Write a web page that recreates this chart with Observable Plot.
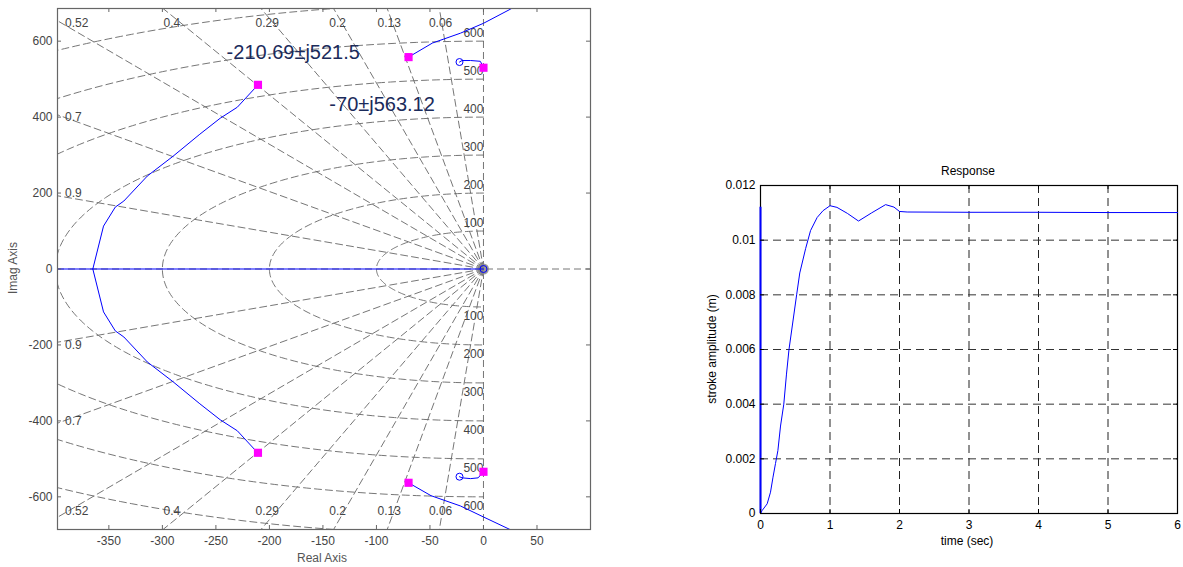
<!DOCTYPE html>
<html><head><meta charset="utf-8">
<script src="https://cdn.jsdelivr.net/npm/d3@7"></script>
<script src="https://cdn.jsdelivr.net/npm/@observablehq/plot@0.6"></script>
<style>
body{margin:0;background:#fff;width:1183px;height:567px;position:relative;overflow:hidden;font-family:"Liberation Sans",Arial,sans-serif}
#left{position:absolute;left:0;top:0}
#right{position:absolute;left:620px;top:0}
.lbl{position:absolute;font-size:12px;white-space:nowrap;transform:translate(-50%,-50%)}
.rot{transform:translate(-50%,-50%) rotate(-90deg)}
</style></head><body>
<div id="left"></div><div id="right"></div>
<div class="lbl rot" style="left:13px;top:268px;color:#555">Imag Axis</div>
<div class="lbl" style="left:322px;top:558px;color:#555">Real Axis</div>
<div class="lbl" style="left:968px;top:171px;color:#000">Response</div>
<div class="lbl" style="left:967px;top:541px;color:#000">time (sec)</div>
<div class="lbl rot" style="left:712px;top:349px;color:#000">stroke amplitude (m)</div>
<script>
// ---------- Root locus data ----------
const realTicks = [-350,-300,-250,-200,-150,-100,-50,0,50];
const imagTicks = [-600,-400,-200,0,200,400,600];
const zetaValues = [0.06,0.13,0.2,0.29,0.4,0.52,0.7,0.9];
const wnRadii = [100,200,300,400,500,600,700,800,900];
const wnLabels = [100,200,300,400,500,600];
const zetaTopLabels = ["0.52","0.4","0.29","0.2","0.13","0.06"];
const zetaTopReal = [-391,-299,-213,-144,-99,-51];
const zetaSideLabels = ["0.7","0.9"];
const zetaSideImag = [400,200];

const locusARe = [-211,-230,-246,-265,-290,-314,-336,-344,-355,-365];
const locusAIm = [484,426,397,355,297,245,179,163,113,0];
const locusALowRe = [-211,-230,-246,-265,-290,-314,-336,-344,-355,-365];
const locusALowIm = [-484,-426,-397,-355,-297,-245,-179,-163,-113,0];
const locusBRe = [-70,-47.7,-21.5,0,25,32];
const locusBIm = [558,595,621,647,684,695];
const locusBLowRe = [-70,-49,-21.5,0,27,32];
const locusBLowIm = [-563,-597,-624,-653,-689,-697];
const locusCRe = [-22.4,-20,-12,-3,0];
const locusCIm = [545,549,549,547,532];
const locusCLowRe = [-22.4,-20,-12,-5,0];
const locusCLowIm = [-547,-550,-552,-550,-534];
const realAxisRe = [-398,0];
const polesRe = [-210.69,-70,0,-210.69,-70,0];
const polesIm = [485,558,530,-484,-563,-534];
const zerosRe = [-22.4,-22.4,0];
const zerosIm = [545,-547,0];
const annotText = ["-210.69±j521.5","-70±j563.12"];
const annotRe = [-240,-144];
const annotIm = [571,434];

// ---------- Step response data ----------
const timeTicks = [0,1,2,3,4,5,6];
const ampTicks = [0,0.002,0.004,0.006,0.008,0.01,0.012];
const stepT = [0,0.024,0.096,0.144,0.18,0.216,0.25,0.288,0.335,0.374,0.41,0.52,0.565,0.65,0.72,0.815,0.9,1.0,1.1,1.25,1.41,1.6,1.8,1.92,2.0,2.11,3,4,5,6];
const stepY = [0,0.00011,0.000355,0.00078,0.00133,0.00183,0.0023,0.0032,0.004,0.0051,0.006,0.008,0.0088,0.0097,0.01035,0.01083,0.01108,0.01126,0.0112,0.01098,0.0107,0.011,0.0113,0.01121,0.01105,0.01103,0.01102,0.01102,0.01101,0.01101];

// ---------- Build tables ----------
const zip = (a,b)=>a.map((v,i)=>({re:v,im:b[i]}));
const circlePts = [];
wnRadii.forEach(r=>{ for(let a=90;a<=270;a+=1){ const t=a*Math.PI/180; circlePts.push({k:r,re:r*Math.cos(t),im:r*Math.sin(t)}); } });
const dampPts = [];
zetaValues.forEach(z=>{ const s=Math.sqrt(1-z*z); [1,-1].forEach(sg=>{ dampPts.push({k:z+"_"+sg,re:0,im:0},{k:z+"_"+sg,re:-z*2000,im:sg*s*2000}); }); });
const font = "Liberation Sans, Arial, sans-serif";
const gridCol = "#666";
const dash = "7,4";

const W1=600,H=567,mL=57,mT=8,mR=10,mB=38;
const pW=W1-mL-mR, pH=H-mT-mB;

const left = Plot.plot({
  width:W1,height:H,marginLeft:mL,marginTop:mT,marginRight:mR,marginBottom:mB,
  style:{fontFamily:font,fontSize:"12px",color:"#444",background:"transparent"},
  x:{domain:[-398,100]}, y:{domain:[-686,686]},
  marks:[
    Plot.line(circlePts,{x:"re",y:"im",z:"k",stroke:gridCol,strokeWidth:0.9,strokeDasharray:dash,clip:true}),
    Plot.line(dampPts,{x:"re",y:"im",z:"k",stroke:gridCol,strokeWidth:0.9,strokeDasharray:dash,clip:true}),
    Plot.ruleX([0],{stroke:gridCol,strokeWidth:0.9,strokeDasharray:dash}),
    Plot.ruleY([0],{stroke:gridCol,strokeWidth:0.9,strokeDasharray:dash}),
    Plot.dot([0],{x:0,y:0,r:5.5,fill:"#888",fillOpacity:0.85}),
    Plot.text(wnLabels,{x:0,y:d=>d,text:d=>String(d),dy:-8,textAnchor:"end",fill:"#444",fontSize:12}),
    Plot.text(wnLabels,{x:0,y:d=>-d,text:d=>String(d),dy:9,textAnchor:"end",fill:"#444",fontSize:12}),
    Plot.text(zetaTopLabels,{x:(d,i)=>zetaTopReal[i],y:647,text:d=>d,textAnchor:"start",fill:"#444",fontSize:12}),
    Plot.text(zetaTopLabels,{x:(d,i)=>zetaTopReal[i],y:-639,text:d=>d,textAnchor:"start",fill:"#444",fontSize:12}),
    Plot.text(zetaSideLabels,{x:-391,y:(d,i)=>zetaSideImag[i],text:d=>d,textAnchor:"start",fill:"#444",fontSize:12}),
    Plot.text(zetaSideLabels,{x:-391,y:(d,i)=>-zetaSideImag[i],text:d=>d,textAnchor:"start",fill:"#444",fontSize:12}),
    Plot.line(zip(realAxisRe,[0,0]),{x:"re",y:"im",stroke:"#0000ff",strokeWidth:1.2,clip:true}),
    Plot.line(zip(locusARe,locusAIm),{x:"re",y:"im",stroke:"#0000ff",strokeWidth:1,clip:true}),
    Plot.line(zip(locusALowRe,locusALowIm),{x:"re",y:"im",stroke:"#0000ff",strokeWidth:1,clip:true}),
    Plot.line(zip(locusBRe,locusBIm),{x:"re",y:"im",stroke:"#0000ff",strokeWidth:1,clip:true}),
    Plot.line(zip(locusBLowRe,locusBLowIm),{x:"re",y:"im",stroke:"#0000ff",strokeWidth:1,clip:true}),
    Plot.line(zip(locusCRe,locusCIm),{x:"re",y:"im",stroke:"#0000ff",strokeWidth:1,clip:true}),
    Plot.line(zip(locusCLowRe,locusCLowIm),{x:"re",y:"im",stroke:"#0000ff",strokeWidth:1,clip:true}),
    Plot.dot(zip(zerosRe,zerosIm),{x:"re",y:"im",r:3.5,stroke:"#0000ff",fill:"none",strokeWidth:1}),
    Plot.dot(zip(polesRe,polesIm),{x:"re",y:"im",r:4.6,symbol:"square",fill:"#ff00ff",stroke:"none"}),
    Plot.text(annotText,{x:(d,i)=>annotRe[i],y:(d,i)=>annotIm[i],text:d=>d,textAnchor:"start",fontSize:20,fill:"#1b2b5b"}),
    Plot.frame({stroke:"#666",strokeWidth:1.2}),
    Plot.tickX(realTicks,{x:d=>d,insetTop:pH-4,stroke:"#666"}),
    Plot.tickX(realTicks,{x:d=>d,insetBottom:pH-4,stroke:"#666"}),
    Plot.tickY(imagTicks,{y:d=>d,insetRight:pW-4,stroke:"#666"}),
    Plot.tickY(imagTicks,{y:d=>d,insetLeft:pW-4,stroke:"#666"}),
    Plot.axisX(realTicks,{tickSize:0,tickPadding:7,tickFormat:d=>String(d),fontSize:12,label:null}),
    Plot.axisY(imagTicks,{tickSize:0,tickPadding:5,tickFormat:d=>String(d),fontSize:12,label:null})
  ]
});
document.getElementById("left").appendChild(left);

const W2=563,m2L=140,m2R=6,m2T=185,m2B=54;
const p2W=W2-m2L-m2R, p2H=H-m2T-m2B;
const right = Plot.plot({
  width:W2,height:H,marginLeft:m2L,marginRight:m2R,marginTop:m2T,marginBottom:m2B,
  style:{fontFamily:font,fontSize:"12px",color:"#000",background:"transparent"},
  x:{domain:[0,6]}, y:{domain:[0,0.012]},
  marks:[
    Plot.ruleX(timeTicks.slice(1,-1),{stroke:"#222",strokeWidth:1,strokeDasharray:"8,5"}),
    Plot.ruleY(ampTicks.slice(1,-1),{stroke:"#333",strokeWidth:1,strokeDasharray:"8,5"}),
    Plot.frame({stroke:"#000",strokeWidth:1.2}),
    Plot.ruleX([0],{y1:0,y2:0.0112,stroke:"#0000ff",strokeWidth:2}),
    Plot.line(zip(stepT,stepY),{x:"re",y:"im",stroke:"#0000ff",strokeWidth:1}),
    Plot.tickX(timeTicks,{x:d=>d,insetTop:p2H-4,stroke:"#000"}),
    Plot.tickX(timeTicks,{x:d=>d,insetBottom:p2H-4,stroke:"#000"}),
    Plot.tickY(ampTicks,{y:d=>d,insetRight:p2W-4,stroke:"#000"}),
    Plot.tickY(ampTicks,{y:d=>d,insetLeft:p2W-4,stroke:"#000"}),
    Plot.axisX(timeTicks,{tickSize:0,tickPadding:7,tickFormat:d=>String(d),fontSize:12,label:null}),
    Plot.axisY(ampTicks,{tickSize:0,tickPadding:5,tickFormat:d=>String(d),fontSize:12,label:null})
  ]
});
document.getElementById("right").appendChild(right);
</script>
</body></html>
